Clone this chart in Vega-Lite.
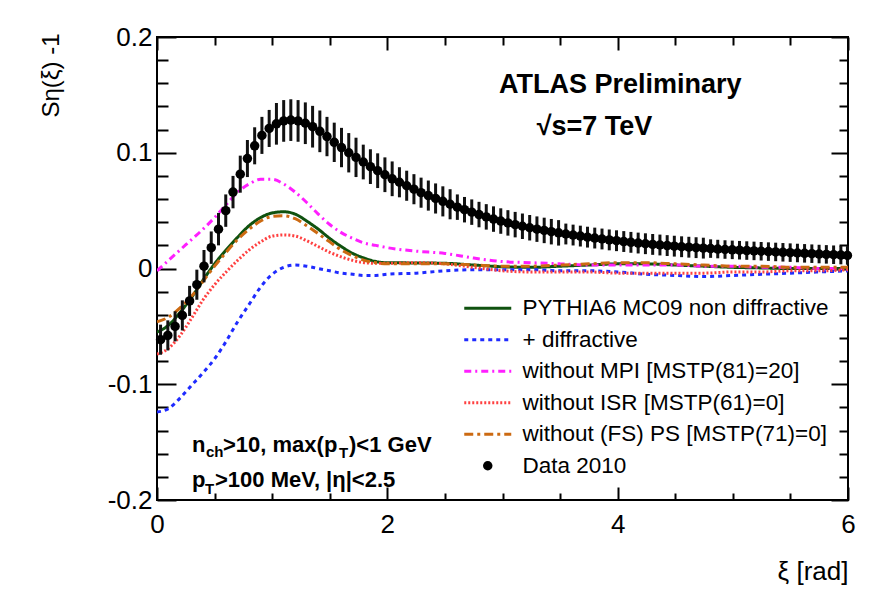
{
  "$schema": "https://vega.github.io/schema/vega-lite/v6.json",
  "width": 691,
  "height": 463,
  "autosize": {"type": "none"},
  "padding": {"left": 157, "top": 37, "right": 22, "bottom": 90},
  "background": "white",
  "config": {
    "view": {"stroke": "black", "strokeWidth": 2},
    "font": "Liberation Sans",
    "axis": {"zindex": 1, "domain": false, "labelColor": "black", "labelFont": "Liberation Sans", "labelFontSize": 26, "grid": false, "titleFont": "Liberation Sans", "titleFontWeight": "normal", "titleColor": "black", "labelOverlap": false, "labelFlush": false}
  },
  "datasets": {
    "models": [
      {"s": "PYTHIA6 MC09 non diffractive", "x": 0, "y": -0.055},
      {"s": "PYTHIA6 MC09 non diffractive", "x": 0.1, "y": -0.049},
      {"s": "PYTHIA6 MC09 non diffractive", "x": 0.2, "y": -0.038},
      {"s": "PYTHIA6 MC09 non diffractive", "x": 0.3, "y": -0.025},
      {"s": "PYTHIA6 MC09 non diffractive", "x": 0.4, "y": -0.010},
      {"s": "PYTHIA6 MC09 non diffractive", "x": 0.5, "y": 0.004},
      {"s": "PYTHIA6 MC09 non diffractive", "x": 0.6, "y": 0.016},
      {"s": "PYTHIA6 MC09 non diffractive", "x": 0.7, "y": 0.027},
      {"s": "PYTHIA6 MC09 non diffractive", "x": 0.8, "y": 0.037},
      {"s": "PYTHIA6 MC09 non diffractive", "x": 0.9, "y": 0.044},
      {"s": "PYTHIA6 MC09 non diffractive", "x": 1.0, "y": 0.048},
      {"s": "PYTHIA6 MC09 non diffractive", "x": 1.1, "y": 0.049},
      {"s": "PYTHIA6 MC09 non diffractive", "x": 1.2, "y": 0.047},
      {"s": "PYTHIA6 MC09 non diffractive", "x": 1.3, "y": 0.041},
      {"s": "PYTHIA6 MC09 non diffractive", "x": 1.4, "y": 0.034},
      {"s": "PYTHIA6 MC09 non diffractive", "x": 1.5, "y": 0.026},
      {"s": "PYTHIA6 MC09 non diffractive", "x": 1.6, "y": 0.019},
      {"s": "PYTHIA6 MC09 non diffractive", "x": 1.7, "y": 0.013},
      {"s": "PYTHIA6 MC09 non diffractive", "x": 1.8, "y": 0.009},
      {"s": "PYTHIA6 MC09 non diffractive", "x": 1.9, "y": 0.006},
      {"s": "PYTHIA6 MC09 non diffractive", "x": 2.0, "y": 0.005},
      {"s": "PYTHIA6 MC09 non diffractive", "x": 2.25, "y": 0.0048},
      {"s": "PYTHIA6 MC09 non diffractive", "x": 2.5, "y": 0.0045},
      {"s": "PYTHIA6 MC09 non diffractive", "x": 2.75, "y": 0.003},
      {"s": "PYTHIA6 MC09 non diffractive", "x": 3.0, "y": 0.0015},
      {"s": "PYTHIA6 MC09 non diffractive", "x": 3.25, "y": 0.001},
      {"s": "PYTHIA6 MC09 non diffractive", "x": 3.5, "y": 0.002},
      {"s": "PYTHIA6 MC09 non diffractive", "x": 3.75, "y": 0.003},
      {"s": "PYTHIA6 MC09 non diffractive", "x": 4.0, "y": 0.004},
      {"s": "PYTHIA6 MC09 non diffractive", "x": 4.25, "y": 0.004},
      {"s": "PYTHIA6 MC09 non diffractive", "x": 4.5, "y": 0.003},
      {"s": "PYTHIA6 MC09 non diffractive", "x": 4.75, "y": 0.002},
      {"s": "PYTHIA6 MC09 non diffractive", "x": 5.0, "y": 0.001},
      {"s": "PYTHIA6 MC09 non diffractive", "x": 5.25, "y": 0.0005},
      {"s": "PYTHIA6 MC09 non diffractive", "x": 5.5, "y": 0.0},
      {"s": "PYTHIA6 MC09 non diffractive", "x": 5.75, "y": 0.0},
      {"s": "PYTHIA6 MC09 non diffractive", "x": 6.0, "y": 0.0},
      {"s": "+ diffractive", "x": 0, "y": -0.124},
      {"s": "+ diffractive", "x": 0.1, "y": -0.121},
      {"s": "+ diffractive", "x": 0.2, "y": -0.112},
      {"s": "+ diffractive", "x": 0.3, "y": -0.101},
      {"s": "+ diffractive", "x": 0.4, "y": -0.090},
      {"s": "+ diffractive", "x": 0.5, "y": -0.078},
      {"s": "+ diffractive", "x": 0.6, "y": -0.063},
      {"s": "+ diffractive", "x": 0.7, "y": -0.046},
      {"s": "+ diffractive", "x": 0.8, "y": -0.031},
      {"s": "+ diffractive", "x": 0.9, "y": -0.016},
      {"s": "+ diffractive", "x": 1.0, "y": -0.005},
      {"s": "+ diffractive", "x": 1.1, "y": 0.001},
      {"s": "+ diffractive", "x": 1.2, "y": 0.003},
      {"s": "+ diffractive", "x": 1.3, "y": 0.002},
      {"s": "+ diffractive", "x": 1.4, "y": 0.000},
      {"s": "+ diffractive", "x": 1.5, "y": -0.002},
      {"s": "+ diffractive", "x": 1.6, "y": -0.004},
      {"s": "+ diffractive", "x": 1.7, "y": -0.005},
      {"s": "+ diffractive", "x": 1.8, "y": -0.006},
      {"s": "+ diffractive", "x": 1.9, "y": -0.006},
      {"s": "+ diffractive", "x": 2.0, "y": -0.005},
      {"s": "+ diffractive", "x": 2.25, "y": -0.004},
      {"s": "+ diffractive", "x": 2.5, "y": -0.002},
      {"s": "+ diffractive", "x": 2.75, "y": -0.001},
      {"s": "+ diffractive", "x": 3.0, "y": -0.001},
      {"s": "+ diffractive", "x": 3.25, "y": -0.001},
      {"s": "+ diffractive", "x": 3.5, "y": -0.002},
      {"s": "+ diffractive", "x": 3.75, "y": -0.002},
      {"s": "+ diffractive", "x": 4.0, "y": -0.003},
      {"s": "+ diffractive", "x": 4.25, "y": -0.005},
      {"s": "+ diffractive", "x": 4.5, "y": -0.006},
      {"s": "+ diffractive", "x": 4.75, "y": -0.007},
      {"s": "+ diffractive", "x": 5.0, "y": -0.006},
      {"s": "+ diffractive", "x": 5.25, "y": -0.005},
      {"s": "+ diffractive", "x": 5.5, "y": -0.004},
      {"s": "+ diffractive", "x": 5.75, "y": -0.003},
      {"s": "+ diffractive", "x": 6.0, "y": -0.002},
      {"s": "without MPI [MSTP(81)=20]", "x": 0, "y": -0.002},
      {"s": "without MPI [MSTP(81)=20]", "x": 0.1, "y": 0.007},
      {"s": "without MPI [MSTP(81)=20]", "x": 0.2, "y": 0.016},
      {"s": "without MPI [MSTP(81)=20]", "x": 0.3, "y": 0.025},
      {"s": "without MPI [MSTP(81)=20]", "x": 0.4, "y": 0.034},
      {"s": "without MPI [MSTP(81)=20]", "x": 0.5, "y": 0.044},
      {"s": "without MPI [MSTP(81)=20]", "x": 0.6, "y": 0.055},
      {"s": "without MPI [MSTP(81)=20]", "x": 0.7, "y": 0.066},
      {"s": "without MPI [MSTP(81)=20]", "x": 0.8, "y": 0.073},
      {"s": "without MPI [MSTP(81)=20]", "x": 0.9, "y": 0.077},
      {"s": "without MPI [MSTP(81)=20]", "x": 1.0, "y": 0.077},
      {"s": "without MPI [MSTP(81)=20]", "x": 1.1, "y": 0.073},
      {"s": "without MPI [MSTP(81)=20]", "x": 1.2, "y": 0.066},
      {"s": "without MPI [MSTP(81)=20]", "x": 1.3, "y": 0.057},
      {"s": "without MPI [MSTP(81)=20]", "x": 1.4, "y": 0.047},
      {"s": "without MPI [MSTP(81)=20]", "x": 1.5, "y": 0.038},
      {"s": "without MPI [MSTP(81)=20]", "x": 1.6, "y": 0.031},
      {"s": "without MPI [MSTP(81)=20]", "x": 1.7, "y": 0.026},
      {"s": "without MPI [MSTP(81)=20]", "x": 1.8, "y": 0.022},
      {"s": "without MPI [MSTP(81)=20]", "x": 1.9, "y": 0.020},
      {"s": "without MPI [MSTP(81)=20]", "x": 2.0, "y": 0.018},
      {"s": "without MPI [MSTP(81)=20]", "x": 2.25, "y": 0.015},
      {"s": "without MPI [MSTP(81)=20]", "x": 2.5, "y": 0.013},
      {"s": "without MPI [MSTP(81)=20]", "x": 2.75, "y": 0.009},
      {"s": "without MPI [MSTP(81)=20]", "x": 3.0, "y": 0.006},
      {"s": "without MPI [MSTP(81)=20]", "x": 3.25, "y": 0.005},
      {"s": "without MPI [MSTP(81)=20]", "x": 3.5, "y": 0.004},
      {"s": "without MPI [MSTP(81)=20]", "x": 3.75, "y": 0.003},
      {"s": "without MPI [MSTP(81)=20]", "x": 4.0, "y": 0.003},
      {"s": "without MPI [MSTP(81)=20]", "x": 4.25, "y": 0.003},
      {"s": "without MPI [MSTP(81)=20]", "x": 4.5, "y": 0.003},
      {"s": "without MPI [MSTP(81)=20]", "x": 4.75, "y": 0.002},
      {"s": "without MPI [MSTP(81)=20]", "x": 5.0, "y": 0.002},
      {"s": "without MPI [MSTP(81)=20]", "x": 5.25, "y": 0.001},
      {"s": "without MPI [MSTP(81)=20]", "x": 5.5, "y": 0.001},
      {"s": "without MPI [MSTP(81)=20]", "x": 5.75, "y": 0.000},
      {"s": "without MPI [MSTP(81)=20]", "x": 6.0, "y": 0.000},
      {"s": "without ISR [MSTP(61)=0]", "x": 0, "y": -0.074},
      {"s": "without ISR [MSTP(61)=0]", "x": 0.1, "y": -0.069},
      {"s": "without ISR [MSTP(61)=0]", "x": 0.2, "y": -0.058},
      {"s": "without ISR [MSTP(61)=0]", "x": 0.3, "y": -0.043},
      {"s": "without ISR [MSTP(61)=0]", "x": 0.4, "y": -0.027},
      {"s": "without ISR [MSTP(61)=0]", "x": 0.5, "y": -0.014},
      {"s": "without ISR [MSTP(61)=0]", "x": 0.6, "y": -0.003},
      {"s": "without ISR [MSTP(61)=0]", "x": 0.7, "y": 0.007},
      {"s": "without ISR [MSTP(61)=0]", "x": 0.8, "y": 0.016},
      {"s": "without ISR [MSTP(61)=0]", "x": 0.9, "y": 0.023},
      {"s": "without ISR [MSTP(61)=0]", "x": 1.0, "y": 0.028},
      {"s": "without ISR [MSTP(61)=0]", "x": 1.1, "y": 0.029},
      {"s": "without ISR [MSTP(61)=0]", "x": 1.2, "y": 0.028},
      {"s": "without ISR [MSTP(61)=0]", "x": 1.3, "y": 0.024},
      {"s": "without ISR [MSTP(61)=0]", "x": 1.4, "y": 0.019},
      {"s": "without ISR [MSTP(61)=0]", "x": 1.5, "y": 0.014},
      {"s": "without ISR [MSTP(61)=0]", "x": 1.6, "y": 0.010},
      {"s": "without ISR [MSTP(61)=0]", "x": 1.7, "y": 0.007},
      {"s": "without ISR [MSTP(61)=0]", "x": 1.8, "y": 0.005},
      {"s": "without ISR [MSTP(61)=0]", "x": 1.9, "y": 0.0045},
      {"s": "without ISR [MSTP(61)=0]", "x": 2.0, "y": 0.0045},
      {"s": "without ISR [MSTP(61)=0]", "x": 2.25, "y": 0.005},
      {"s": "without ISR [MSTP(61)=0]", "x": 2.5, "y": 0.004},
      {"s": "without ISR [MSTP(61)=0]", "x": 2.75, "y": 0.001},
      {"s": "without ISR [MSTP(61)=0]", "x": 3.0, "y": -0.002},
      {"s": "without ISR [MSTP(61)=0]", "x": 3.25, "y": -0.003},
      {"s": "without ISR [MSTP(61)=0]", "x": 3.5, "y": -0.003},
      {"s": "without ISR [MSTP(61)=0]", "x": 3.75, "y": -0.003},
      {"s": "without ISR [MSTP(61)=0]", "x": 4.0, "y": -0.004},
      {"s": "without ISR [MSTP(61)=0]", "x": 4.25, "y": -0.004},
      {"s": "without ISR [MSTP(61)=0]", "x": 4.5, "y": -0.004},
      {"s": "without ISR [MSTP(61)=0]", "x": 4.75, "y": -0.004},
      {"s": "without ISR [MSTP(61)=0]", "x": 5.0, "y": -0.003},
      {"s": "without ISR [MSTP(61)=0]", "x": 5.25, "y": -0.003},
      {"s": "without ISR [MSTP(61)=0]", "x": 5.5, "y": -0.002},
      {"s": "without ISR [MSTP(61)=0]", "x": 5.75, "y": -0.002},
      {"s": "without ISR [MSTP(61)=0]", "x": 6.0, "y": -0.001},
      {"s": "without (FS) PS [MSTP(71)=0]", "x": 0, "y": -0.046},
      {"s": "without (FS) PS [MSTP(71)=0]", "x": 0.1, "y": -0.042},
      {"s": "without (FS) PS [MSTP(71)=0]", "x": 0.2, "y": -0.034},
      {"s": "without (FS) PS [MSTP(71)=0]", "x": 0.3, "y": -0.024},
      {"s": "without (FS) PS [MSTP(71)=0]", "x": 0.4, "y": -0.011},
      {"s": "without (FS) PS [MSTP(71)=0]", "x": 0.5, "y": 0.002},
      {"s": "without (FS) PS [MSTP(71)=0]", "x": 0.6, "y": 0.014},
      {"s": "without (FS) PS [MSTP(71)=0]", "x": 0.7, "y": 0.025},
      {"s": "without (FS) PS [MSTP(71)=0]", "x": 0.8, "y": 0.034},
      {"s": "without (FS) PS [MSTP(71)=0]", "x": 0.9, "y": 0.041},
      {"s": "without (FS) PS [MSTP(71)=0]", "x": 1.0, "y": 0.045},
      {"s": "without (FS) PS [MSTP(71)=0]", "x": 1.1, "y": 0.0455},
      {"s": "without (FS) PS [MSTP(71)=0]", "x": 1.2, "y": 0.043},
      {"s": "without (FS) PS [MSTP(71)=0]", "x": 1.3, "y": 0.037},
      {"s": "without (FS) PS [MSTP(71)=0]", "x": 1.4, "y": 0.030},
      {"s": "without (FS) PS [MSTP(71)=0]", "x": 1.5, "y": 0.023},
      {"s": "without (FS) PS [MSTP(71)=0]", "x": 1.6, "y": 0.016},
      {"s": "without (FS) PS [MSTP(71)=0]", "x": 1.7, "y": 0.011},
      {"s": "without (FS) PS [MSTP(71)=0]", "x": 1.8, "y": 0.007},
      {"s": "without (FS) PS [MSTP(71)=0]", "x": 1.9, "y": 0.005},
      {"s": "without (FS) PS [MSTP(71)=0]", "x": 2.0, "y": 0.004},
      {"s": "without (FS) PS [MSTP(71)=0]", "x": 2.25, "y": 0.004},
      {"s": "without (FS) PS [MSTP(71)=0]", "x": 2.5, "y": 0.004},
      {"s": "without (FS) PS [MSTP(71)=0]", "x": 2.75, "y": 0.003},
      {"s": "without (FS) PS [MSTP(71)=0]", "x": 3.0, "y": 0.002},
      {"s": "without (FS) PS [MSTP(71)=0]", "x": 3.25, "y": 0.002},
      {"s": "without (FS) PS [MSTP(71)=0]", "x": 3.5, "y": 0.003},
      {"s": "without (FS) PS [MSTP(71)=0]", "x": 3.75, "y": 0.004},
      {"s": "without (FS) PS [MSTP(71)=0]", "x": 4.0, "y": 0.005},
      {"s": "without (FS) PS [MSTP(71)=0]", "x": 4.25, "y": 0.005},
      {"s": "without (FS) PS [MSTP(71)=0]", "x": 4.5, "y": 0.004},
      {"s": "without (FS) PS [MSTP(71)=0]", "x": 4.75, "y": 0.003},
      {"s": "without (FS) PS [MSTP(71)=0]", "x": 5.0, "y": 0.002},
      {"s": "without (FS) PS [MSTP(71)=0]", "x": 5.25, "y": 0.002},
      {"s": "without (FS) PS [MSTP(71)=0]", "x": 5.5, "y": 0.001},
      {"s": "without (FS) PS [MSTP(71)=0]", "x": 5.75, "y": 0.001},
      {"s": "without (FS) PS [MSTP(71)=0]", "x": 6.0, "y": 0.001}
    ],
    "points": [
      {"x": 0.031, "y": -0.0615, "e": 0.013},
      {"x": 0.094, "y": -0.0578, "e": 0.013},
      {"x": 0.157, "y": -0.0500, "e": 0.013},
      {"x": 0.220, "y": -0.0405, "e": 0.013},
      {"x": 0.283, "y": -0.0280, "e": 0.013},
      {"x": 0.346, "y": -0.0140, "e": 0.013},
      {"x": 0.408, "y": 0.0020, "e": 0.014},
      {"x": 0.471, "y": 0.0180, "e": 0.014},
      {"x": 0.534, "y": 0.0340, "e": 0.014},
      {"x": 0.597, "y": 0.0500, "e": 0.014},
      {"x": 0.660, "y": 0.0660, "e": 0.014},
      {"x": 0.723, "y": 0.0815, "e": 0.016},
      {"x": 0.785, "y": 0.0950, "e": 0.016},
      {"x": 0.848, "y": 0.1060, "e": 0.016},
      {"x": 0.911, "y": 0.1150, "e": 0.016},
      {"x": 0.974, "y": 0.1210, "e": 0.016},
      {"x": 1.037, "y": 0.1250, "e": 0.018},
      {"x": 1.100, "y": 0.1275, "e": 0.018},
      {"x": 1.162, "y": 0.1282, "e": 0.018},
      {"x": 1.225, "y": 0.1275, "e": 0.018},
      {"x": 1.288, "y": 0.1255, "e": 0.018},
      {"x": 1.351, "y": 0.1225, "e": 0.018},
      {"x": 1.414, "y": 0.1185, "e": 0.018},
      {"x": 1.476, "y": 0.1140, "e": 0.017},
      {"x": 1.539, "y": 0.1090, "e": 0.017},
      {"x": 1.602, "y": 0.1045, "e": 0.017},
      {"x": 1.665, "y": 0.1000, "e": 0.017},
      {"x": 1.728, "y": 0.0960, "e": 0.017},
      {"x": 1.791, "y": 0.0920, "e": 0.015},
      {"x": 1.853, "y": 0.0880, "e": 0.015},
      {"x": 1.916, "y": 0.0845, "e": 0.015},
      {"x": 1.979, "y": 0.0810, "e": 0.015},
      {"x": 2.042, "y": 0.0775, "e": 0.015},
      {"x": 2.105, "y": 0.0745, "e": 0.013},
      {"x": 2.168, "y": 0.0715, "e": 0.013},
      {"x": 2.231, "y": 0.0685, "e": 0.013},
      {"x": 2.293, "y": 0.0655, "e": 0.013},
      {"x": 2.356, "y": 0.0630, "e": 0.013},
      {"x": 2.419, "y": 0.0605, "e": 0.013},
      {"x": 2.482, "y": 0.0580, "e": 0.013},
      {"x": 2.545, "y": 0.0555, "e": 0.013},
      {"x": 2.608, "y": 0.0530, "e": 0.011},
      {"x": 2.670, "y": 0.0508, "e": 0.011},
      {"x": 2.733, "y": 0.0487, "e": 0.011},
      {"x": 2.796, "y": 0.0466, "e": 0.011},
      {"x": 2.859, "y": 0.0446, "e": 0.011},
      {"x": 2.922, "y": 0.0427, "e": 0.011},
      {"x": 2.985, "y": 0.0410, "e": 0.011},
      {"x": 3.047, "y": 0.0394, "e": 0.011},
      {"x": 3.110, "y": 0.0379, "e": 0.011},
      {"x": 3.173, "y": 0.0365, "e": 0.011},
      {"x": 3.236, "y": 0.0352, "e": 0.011},
      {"x": 3.299, "y": 0.0340, "e": 0.011},
      {"x": 3.362, "y": 0.0329, "e": 0.011},
      {"x": 3.424, "y": 0.0318, "e": 0.011},
      {"x": 3.487, "y": 0.0308, "e": 0.011},
      {"x": 3.550, "y": 0.0298, "e": 0.009},
      {"x": 3.613, "y": 0.0289, "e": 0.009},
      {"x": 3.676, "y": 0.0280, "e": 0.009},
      {"x": 3.738, "y": 0.0271, "e": 0.009},
      {"x": 3.801, "y": 0.0263, "e": 0.009},
      {"x": 3.864, "y": 0.0255, "e": 0.009},
      {"x": 3.927, "y": 0.0247, "e": 0.009},
      {"x": 3.990, "y": 0.0240, "e": 0.009},
      {"x": 4.053, "y": 0.0233, "e": 0.009},
      {"x": 4.115, "y": 0.0226, "e": 0.009},
      {"x": 4.178, "y": 0.0220, "e": 0.009},
      {"x": 4.241, "y": 0.0214, "e": 0.009},
      {"x": 4.304, "y": 0.0208, "e": 0.009},
      {"x": 4.367, "y": 0.0203, "e": 0.009},
      {"x": 4.430, "y": 0.0198, "e": 0.009},
      {"x": 4.492, "y": 0.0193, "e": 0.009},
      {"x": 4.555, "y": 0.0188, "e": 0.009},
      {"x": 4.618, "y": 0.0184, "e": 0.009},
      {"x": 4.681, "y": 0.0180, "e": 0.009},
      {"x": 4.744, "y": 0.0176, "e": 0.009},
      {"x": 4.807, "y": 0.0172, "e": 0.008},
      {"x": 4.869, "y": 0.0168, "e": 0.008},
      {"x": 4.932, "y": 0.0164, "e": 0.008},
      {"x": 4.995, "y": 0.0161, "e": 0.008},
      {"x": 5.058, "y": 0.0158, "e": 0.008},
      {"x": 5.121, "y": 0.0155, "e": 0.008},
      {"x": 5.184, "y": 0.0152, "e": 0.008},
      {"x": 5.246, "y": 0.0149, "e": 0.008},
      {"x": 5.309, "y": 0.0146, "e": 0.008},
      {"x": 5.372, "y": 0.0143, "e": 0.008},
      {"x": 5.435, "y": 0.0140, "e": 0.008},
      {"x": 5.498, "y": 0.0137, "e": 0.008},
      {"x": 5.561, "y": 0.0134, "e": 0.008},
      {"x": 5.623, "y": 0.0131, "e": 0.008},
      {"x": 5.686, "y": 0.0128, "e": 0.008},
      {"x": 5.749, "y": 0.0125, "e": 0.008},
      {"x": 5.812, "y": 0.0122, "e": 0.008},
      {"x": 5.875, "y": 0.0119, "e": 0.008},
      {"x": 5.938, "y": 0.0116, "e": 0.008},
      {"x": 5.995, "y": 0.0113, "e": 0.008}
    ]
  },
  "layer": [
    {
      "data": {"name": "models"},
      "mark": {"type": "line", "strokeWidth": 3, "interpolate": "monotone", "clip": true},
      "encoding": {
        "x": {"field": "x", "type": "quantitative", "scale": {"domain": [0, 6], "nice": false, "zero": false},
          "axis": {"orient": "bottom", "values": [0, 2, 4, 6], "ticks": true, "tickColor": "#000000", "tickWidth": 2, "tickOpacity": 1, "offset": -13, "tickSize": 13, "labelPadding": 11, "format": "d",
            "title": "ξ [rad]", "titleFontSize": 26, "titleAnchor": "end", "titleAlign": "right", "titleBaseline": "middle", "titleX": 691, "titleY": 84}},
        "y": {"field": "y", "type": "quantitative", "scale": {"domain": [-0.2, 0.2], "nice": false, "zero": false},
          "axis": {"orient": "left", "values": [-0.2, -0.1, 0, 0.1, 0.2], "ticks": true, "tickColor": "#000000", "tickWidth": 2, "tickOpacity": 1, "offset": -19, "tickSize": 19, "labelPadding": 5,
            "labelExpr": "'' + datum.value",
            "title": "Sη(ξ) -1", "titleFontSize": 24, "titleAngle": 270, "titleAlign": "right", "titleBaseline": "middle", "titleX": -125, "titleY": -4}},
        "color": {"field": "s", "type": "nominal",
          "scale": {"domain": ["PYTHIA6 MC09 non diffractive", "+ diffractive", "without MPI [MSTP(81)=20]", "without ISR [MSTP(61)=0]", "without (FS) PS [MSTP(71)=0]", "Data 2010"],
            "range": ["#0f520f", "#1f2bff", "#ff1fff", "#ff4040", "#cc6a12", "#000000"]},
          "legend": {"orient": "none", "legendX": 319.5, "legendY": 260, "title": null, "padding": 0,
            "symbolType": "M-2.35,0H2.35", "symbolSize": 400, "symbolStrokeWidth": 3,
            "labelFont": "Liberation Sans", "labelFontSize": 22.5, "labelColor": "black", "labelOffset": 23.5, "labelLimit": 500, "rowPadding": 8.5,
            "encode": {"symbols": {"update": {
              "shape": {"signal": "datum.value === 'Data 2010' ? 'circle' : 'M-2.35,0H2.35'"},
              "size": {"signal": "datum.value === 'Data 2010' ? 90 : 400"},
              "fill": {"signal": "datum.value === 'Data 2010' ? 'black' : 'transparent'"},
              "strokeWidth": {"signal": "datum.value === 'Data 2010' ? 0 : 3"},
              "strokeDash": {"signal": "datum.value === '+ diffractive' ? [4, 4] : datum.value === 'without MPI [MSTP(81)=20]' ? [7, 4, 2, 4] : datum.value === 'without ISR [MSTP(61)=0]' ? [2, 2] : datum.value === 'without (FS) PS [MSTP(71)=0]' ? [9, 4, 3, 4] : [1, 0]"}
            }}}}},
        "strokeDash": {"field": "s", "type": "nominal", "legend": null,
          "scale": {"domain": ["PYTHIA6 MC09 non diffractive", "+ diffractive", "without MPI [MSTP(81)=20]", "without ISR [MSTP(61)=0]", "without (FS) PS [MSTP(71)=0]"],
            "range": [[1, 0], [4, 4], [7, 4, 2, 4], [2, 2], [9, 4, 3, 4]]}}
      }
    },
    {
      "data": {"name": "points"},
      "mark": {"type": "errorbar", "ticks": false, "thickness": 3, "color": "#111111"},
      "encoding": {
        "x": {"field": "x", "type": "quantitative",
          "axis": {"orient": "top", "values": [0, 2, 4, 6], "labels": false, "title": null, "ticks": true, "tickColor": "#000000", "tickWidth": 2, "tickOpacity": 1, "tickSize": -13}},
        "y": {"field": "y", "type": "quantitative",
          "axis": {"orient": "right", "values": [-0.2, -0.1, 0, 0.1, 0.2], "labels": false, "title": null, "ticks": true, "tickColor": "#000000", "tickWidth": 2, "tickOpacity": 1, "offset": -17, "tickSize": 17}},
        "yError": {"field": "e"}
      }
    },
    {
      "data": {"name": "points"},
      "mark": {"type": "circle", "size": 90, "color": "black", "opacity": 1},
      "encoding": {
        "x": {"field": "x", "type": "quantitative",
          "axis": {"orient": "bottom", "values": [0.5, 1, 1.5, 2.5, 3, 3.5, 4.5, 5, 5.5], "labels": false, "title": null, "ticks": true, "tickColor": "#000000", "tickWidth": 2, "tickOpacity": 1, "offset": -7, "tickSize": 7}},
        "y": {"field": "y", "type": "quantitative",
          "axis": {"orient": "left", "values": [-0.18, -0.16, -0.14, -0.12, -0.08, -0.06, -0.04, -0.02, 0.02, 0.04, 0.06, 0.08, 0.12, 0.14, 0.16, 0.18], "labels": false, "title": null, "ticks": true, "tickColor": "#000000", "tickWidth": 2, "tickOpacity": 1, "offset": -11, "tickSize": 11}}
      }
    },
    {
      "data": {"values": [{}]},
      "mark": {"type": "text", "text": "ATLAS Preliminary", "fontSize": 27, "fontWeight": "bold", "align": "left", "baseline": "alphabetic", "color": "black"},
      "encoding": {
        "x": {"datum": 2.97, "type": "quantitative",
          "axis": {"orient": "top", "values": [0.5, 1, 1.5, 2.5, 3, 3.5, 4.5, 5, 5.5], "labels": false, "title": null, "ticks": true, "tickColor": "#000000", "tickWidth": 2, "tickOpacity": 1, "tickSize": -8}},
        "y": {"datum": 0.1516, "type": "quantitative",
          "axis": {"orient": "right", "values": [-0.18, -0.16, -0.14, -0.12, -0.08, -0.06, -0.04, -0.02, 0.02, 0.04, 0.06, 0.08, 0.12, 0.14, 0.16, 0.18], "labels": false, "title": null, "ticks": true, "tickColor": "#000000", "tickWidth": 2, "tickOpacity": 1, "offset": -9, "tickSize": 9}}
      }
    },
    {
      "data": {"values": [{}]},
      "mark": {"type": "text", "text": "√s=7 TeV", "fontSize": 27, "fontWeight": "bold", "align": "left", "baseline": "alphabetic", "color": "black"},
      "encoding": {"x": {"datum": 3.297, "type": "quantitative", "axis": null}, "y": {"datum": 0.1153, "type": "quantitative", "axis": null}}
    },
    {
      "data": {"values": [{}]},
      "mark": {"type": "text", "text": "n", "fontSize": 22, "fontWeight": "bold", "align": "left", "baseline": "alphabetic", "color": "black"},
      "encoding": {"x": {"datum": 0.304, "type": "quantitative", "axis": null}, "y": {"datum": -0.1583, "type": "quantitative", "axis": null}}
    },
    {
      "data": {"values": [{}]},
      "mark": {"type": "text", "text": "ch", "fontSize": 15, "fontWeight": "bold", "align": "left", "baseline": "alphabetic", "color": "black", "dx": 14, "dy": 5},
      "encoding": {"x": {"datum": 0.304, "type": "quantitative", "axis": null}, "y": {"datum": -0.1583, "type": "quantitative", "axis": null}}
    },
    {
      "data": {"values": [{}]},
      "mark": {"type": "text", "text": ">10, max(p", "fontSize": 22, "fontWeight": "bold", "align": "left", "baseline": "alphabetic", "color": "black", "dx": 31},
      "encoding": {"x": {"datum": 0.304, "type": "quantitative", "axis": null}, "y": {"datum": -0.1583, "type": "quantitative", "axis": null}}
    },
    {
      "data": {"values": [{}]},
      "mark": {"type": "text", "text": "T", "fontSize": 15, "fontWeight": "bold", "align": "left", "baseline": "alphabetic", "color": "black", "dx": 147, "dy": 6},
      "encoding": {"x": {"datum": 0.304, "type": "quantitative", "axis": null}, "y": {"datum": -0.1583, "type": "quantitative", "axis": null}}
    },
    {
      "data": {"values": [{}]},
      "mark": {"type": "text", "text": ")<1 GeV", "fontSize": 22, "fontWeight": "bold", "align": "left", "baseline": "alphabetic", "color": "black", "dx": 157},
      "encoding": {"x": {"datum": 0.304, "type": "quantitative", "axis": null}, "y": {"datum": -0.1583, "type": "quantitative", "axis": null}}
    },
    {
      "data": {"values": [{}]},
      "mark": {"type": "text", "text": "p", "fontSize": 22, "fontWeight": "bold", "align": "left", "baseline": "alphabetic", "color": "black"},
      "encoding": {"x": {"datum": 0.304, "type": "quantitative", "axis": null}, "y": {"datum": -0.1885, "type": "quantitative", "axis": null}}
    },
    {
      "data": {"values": [{}]},
      "mark": {"type": "text", "text": "T", "fontSize": 15, "fontWeight": "bold", "align": "left", "baseline": "alphabetic", "color": "black", "dx": 13, "dy": 7},
      "encoding": {"x": {"datum": 0.304, "type": "quantitative", "axis": null}, "y": {"datum": -0.1885, "type": "quantitative", "axis": null}}
    },
    {
      "data": {"values": [{}]},
      "mark": {"type": "text", "text": ">100 MeV, |η|<2.5", "fontSize": 22, "fontWeight": "bold", "align": "left", "baseline": "alphabetic", "color": "black", "dx": 23},
      "encoding": {"x": {"datum": 0.304, "type": "quantitative", "axis": null}, "y": {"datum": -0.1885, "type": "quantitative", "axis": null}}
    }
  ],
  "resolve": {"axis": {"x": "independent", "y": "independent"}}
}
